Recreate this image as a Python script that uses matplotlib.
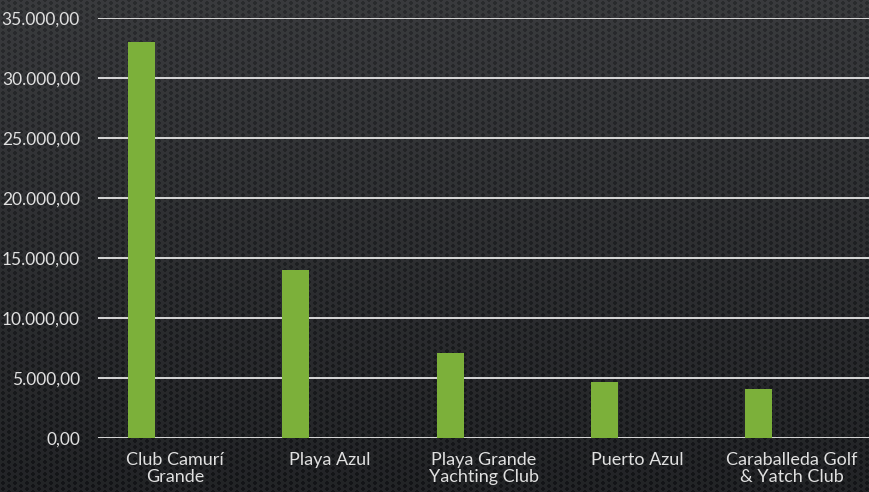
import numpy as np
import matplotlib.pyplot as plt
from matplotlib.ticker import FuncFormatter

categories = ["Club Camurí\nGrande", "Playa Azul", "Playa Grande\nYachting Club",
              "Puerto Azul", "Caraballeda Golf\n& Yatch Club"]
values = [33000, 14000, 7050, 4650, 4050]

W, H = 869, 492
fig = plt.figure(figsize=(W / 100, H / 100), dpi=100)

# dark dotted background (gradient + dot grid)
yy, xx = np.mgrid[0:H, 0:W]
base = 0.225 - 0.09 * (yy / H)
dots = ((xx % 6) - 2.5) ** 2 + (((yy + 3 * ((xx // 6) % 2)) % 6) - 2.5) ** 2 < 3.5
img = base - dots * 0.06
rgb = np.dstack([img, img + 0.005, img + 0.015]).clip(0, 1)
fig.figimage(rgb, 0, 0, origin="upper", zorder=-10)

ax = fig.add_axes([98 / W, 1 - 438 / H, 1 - 98 / W, (438 - 18) / H])
ax.patch.set_alpha(0)

x = np.arange(len(categories))
ax.bar(x - 0.217, values, width=0.175, color="#7cb03a", zorder=3)

ax.set_xlim(-0.5, len(categories) - 0.5)
ax.set_ylim(0, 35000)
ax.set_yticks(np.arange(0, 35001, 5000))
ax.yaxis.set_major_formatter(FuncFormatter(
    lambda v, p: f"{v:,.2f}".replace(",", "X").replace(".", ",").replace("X", ".")))
ax.set_xticks(x)
ax.set_xticklabels(categories, linespacing=1.1)

ax.grid(axis="y", color="#e6e6e6", linewidth=1.3, zorder=1)
for s in ax.spines.values():
    s.set_visible(False)
ax.tick_params(length=0, colors="#e0e0e0")
ax.tick_params(axis="y", pad=13, labelsize=12.5)
ax.tick_params(axis="x", pad=10, labelsize=13)
for t in ax.get_xticklabels() + ax.get_yticklabels():
    t.set_family("Lato")

fig.savefig("out.png", dpi=100)
